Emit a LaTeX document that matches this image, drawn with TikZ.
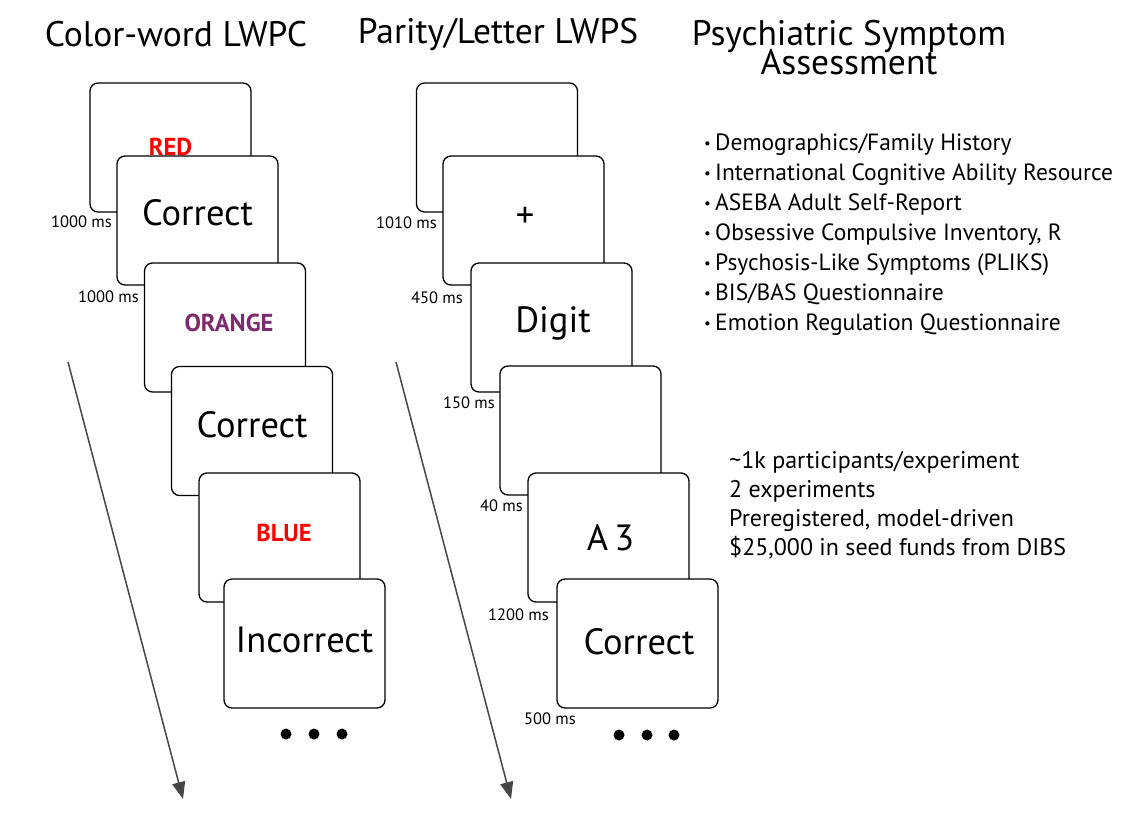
\documentclass[tikz,border=0pt]{standalone}
\usepackage{fontspec}
\setmainfont{PT Sans}
\usetikzlibrary{arrows.meta}
\definecolor{wordred}{RGB}{255,0,0}
\definecolor{wordpurple}{RGB}{125,42,110}
\definecolor{arrowgray}{RGB}{70,70,70}
\newcommand{\smallbul}{\makebox[11pt][l]{\raisebox{2pt}{\fontsize{15}{15}\selectfont\textbullet}}}
\newcommand{\titlefont}{\fontsize{35.5}{29}\selectfont\setlength{\lineskiplimit}{-100pt}}
\begin{document}
\begin{tikzpicture}[x=1pt,y=-1pt,
  card/.style={draw=black, fill=white, rounded corners=8pt, line width=1.3pt,
    minimum width=161pt, minimum height=129pt, inner sep=0pt},
  big/.style={font=\fontsize{36.5}{38}\selectfont, inner sep=0pt},
  colw/.style={font=\fontsize{24.5}{26}\selectfont\bfseries, inner sep=0pt},
  ms/.style={font=\fontsize{16.5}{18}\selectfont, anchor=east, inner sep=0pt},
  title/.style={font=\titlefont, align=center, inner sep=0pt},
  info/.style={font=\fontsize{23.5}{30}\selectfont, align=left, anchor=north west, inner sep=0pt},
  dot/.style={circle, fill=black, minimum size=11pt, inner sep=0pt},
  timearrow/.style={draw=arrowgray, line width=1.5pt, -{Triangle[length=17pt,width=13pt]}}
]
\useasboundingbox (0,0) rectangle (1122,831);
% titles
\node[title] (t1) at (176,34) {Color-word LWPC};
\node[title] (t2) at (498,34) {Parity/Letter LWPS};
\node[title] (t3) at (849,48) {Psychiatric Symptom\\Assessment};
% left column
\node[card] (c1) at (170.5,147.5) {};
\node[colw, text=wordred] (c1t) at (170.5,147) {RED};
\node[card] (c2) at (197.5,220.5) {};
\node[big] (c2t) at (197.5,213) {Correct};
\node[card] (c3) at (225,327.5) {};
\node[colw, text=wordpurple] (c3t) at (229,323) {ORANGE};
\node[card] (c4) at (252,431) {};
\node[big] (c4t) at (252,425) {Correct};
\node[card] (c5) at (279.5,537.5) {};
\node[colw, text=wordred] (c5t) at (284,533) {BLUE};
\node[card] (c6) at (304.5,643.5) {};
\node[big] (c6t) at (304.5,640) {Incorrect};
\node[ms] (l1) at (112,222) {1000 ms};
\node[ms] (l2) at (139,297) {1000 ms};
% middle column
\node[card] (m1) at (497,147.5) {};
\node[card] (m2) at (523.5,220.5) {};
\node[big] (m2t) at (525,217) {+};
\node[card] (m3) at (551.5,327.5) {};
\node[big] (m3t) at (553,323) {Digit};
\node[card] (m4) at (580.5,430.5) {};
\node[card] (m5) at (608.5,537.5) {};
\node[big] (m5t) at (610.5,538) {A\,3};
\node[card] (m6) at (637.5,643.5) {};
\node[big] (m6t) at (639,642) {Correct};
\node[ms] (n1) at (437,223) {1010 ms};
\node[ms] (n2) at (463,298) {450 ms};
\node[ms] (n3) at (495,403) {150 ms};
\node[ms] (n4) at (523,506) {40 ms};
\node[ms] (n5) at (549,615) {1200 ms};
\node[ms] (n6) at (576,719) {500 ms};
% dots
\node[dot] (d1) at (286,734) {};
\node[dot] (d2) at (314,734) {};
\node[dot] (d3) at (342,734) {};
\node[dot] (e1) at (619,735) {};
\node[dot] (e2) at (647,735) {};
\node[dot] (e3) at (674,735) {};
% time arrows
\coordinate (a1) at (68,362);
\coordinate (b1) at (183,799);
\coordinate (a2) at (396,362);
\coordinate (b2) at (511,799);
\draw[timearrow] (a1) -- (b1);
\draw[timearrow] (a2) -- (b2);
% info text
\node[info] (list) at (704,134) {%
\smallbul Demographics/Family History\\
\smallbul International Cognitive Ability Resource\\
\smallbul ASEBA Adult Self-Report\\
\smallbul Obsessive Compulsive Inventory, R\\
\smallbul Psychosis-Like Symptoms (PLIKS)\\
\smallbul BIS/BAS Questionnaire\\
\smallbul Emotion Regulation Questionnaire};
\node[info, font=\fontsize{24}{29}\selectfont] (facts) at (729,451) {%
\char"007E 1k participants/experiment\\
2 experiments\\
Preregistered, model-driven\\
\$25,000 in seed funds from DIBS};
\end{tikzpicture}
\end{document}
